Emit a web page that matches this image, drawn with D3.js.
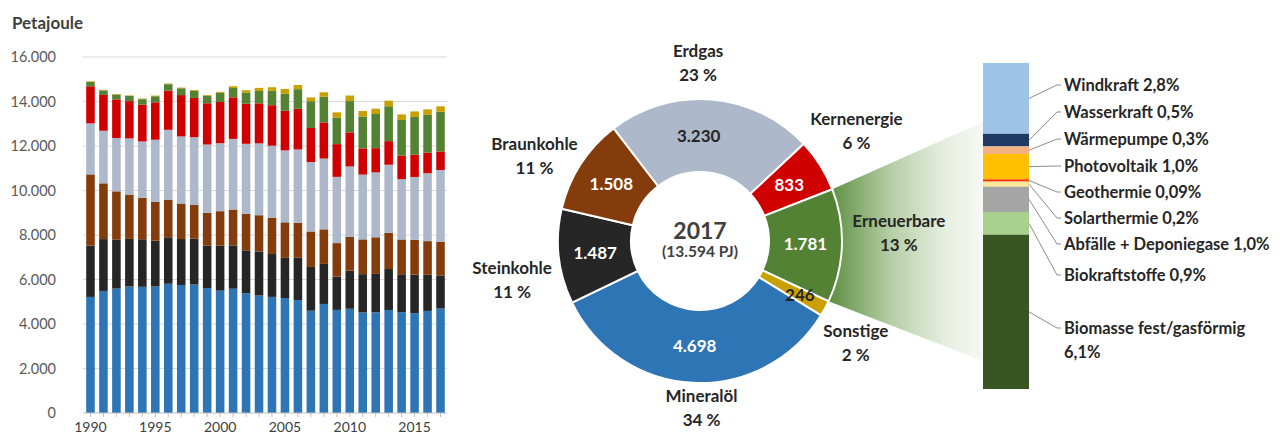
<!DOCTYPE html>
<html>
<head>
<meta charset="utf-8">
<script src="https://cdn.jsdelivr.net/npm/d3@7"></script>
<style>
  body { margin: 0; background: #fff; }
  svg { display: block; font-family: Lato, "Open Sans", sans-serif; }
</style>
</head>
<body>
<div id="chart"></div>
<script>
// Primärenergieverbrauch Deutschland, Petajoule
const years = [1990, 1991, 1992, 1993, 1994, 1995, 1996, 1997, 1998, 1999,
  2000, 2001, 2002, 2003, 2004, 2005, 2006, 2007, 2008, 2009,
  2010, 2011, 2012, 2013, 2014, 2015, 2016, 2017];
const mineraloel = [5217, 5486, 5592, 5685, 5671, 5689, 5808, 5754, 5775, 5614,
  5499, 5585, 5385, 5283, 5218, 5166, 5079, 4598, 4901, 4634,
  4684, 4525, 4527, 4630, 4527, 4487, 4588, 4698];
const steinkohle = [2306, 2330, 2195, 2139, 2138, 2060, 2090, 2065, 2059, 1910,
  2021, 1949, 1927, 1976, 1930, 1808, 1898, 1966, 1800, 1496,
  1714, 1715, 1725, 1840, 1708, 1729, 1625, 1487];
const braunkohle = [3201, 2507, 2176, 1994, 1860, 1734, 1688, 1595, 1514, 1473,
  1550, 1611, 1641, 1630, 1635, 1596, 1574, 1595, 1554, 1507,
  1512, 1564, 1645, 1629, 1564, 1565, 1511, 1508];
const erdgas = [2293, 2363, 2398, 2523, 2536, 2799, 3140, 3017, 3048, 3069,
  3055, 3175, 3146, 3229, 3229, 3233, 3293, 3119, 3181, 2976,
  3171, 2911, 2920, 3059, 2713, 2828, 3053, 3230];
const kernenergie = [1668, 1609, 1733, 1675, 1650, 1682, 1764, 1858, 1764, 1855,
  1851, 1868, 1798, 1801, 1822, 1779, 1826, 1533, 1623, 1472,
  1533, 1178, 1085, 1061, 1060, 1001, 923, 833];
const erneuerbare = [196, 203, 218, 232, 249, 272, 287, 305, 318, 340,
  418, 417, 509, 553, 647, 763, 883, 1202, 1155, 1197,
  1405, 1432, 1536, 1567, 1596, 1694, 1698, 1781];
const sonstige = [25, 25, 25, 25, 30, 30, 30, 30, 35, 35,
  40, 80, 100, 140, 160, 220, 190, 170, 200, 230,
  250, 250, 240, 250, 250, 250, 250, 246];
const yTicks = [0, 2000, 4000, 6000, 8000, 10000, 12000, 14000, 16000];

// Donut 2017
const donutNames = ['Erdgas', 'Kernenergie', 'Erneuerbare', 'Sonstige', 'Mineralöl', 'Steinkohle', 'Braunkohle'];
const donutValues = [3230, 833, 1781, 246, 4698, 1487, 1508];
const donutPercent = ['23 %', '6 %', '13 %', '2 %', '34 %', '11 %', '11 %'];
const donutYear = '2017';
const donutTotal = '(13.594 PJ)';

// Erneuerbare, Anteil am PEV in %
const reNames = ['Windkraft', 'Wasserkraft', 'Wärmepumpe', 'Photovoltaik', 'Geothermie',
  'Solarthermie', 'Abfälle + Deponiegase', 'Biokraftstoffe', 'Biomasse fest/gasförmig'];
const reShares = [2.8, 0.5, 0.3, 1.0, 0.09, 0.2, 1.0, 0.9, 6.1];
const reShareText = ['2,8%', '0,5%', '0,3%', '1,0%', '0,09%', '0,2%', '1,0%', '0,9%', '6,1%'];

// colours
const colors = {
  'Mineralöl': '#2e75b6', 'Steinkohle': '#262626', 'Braunkohle': '#843c0c',
  'Erdgas': '#adb9ca', 'Kernenergie': '#d00000', 'Erneuerbare': '#548235', 'Sonstige': '#c9a000'
};
const reColors = ['#9dc3e6', '#1f3864', '#f4b183', '#ffc000', '#ff3300', '#ffe699', '#a5a5a5', '#a9d18e', '#375623'];

const textDark = '#262626';
const svg = d3.select('#chart').append('svg').attr('width', 1280).attr('height', 438);
const de = d3.formatLocale({ decimal: ',', thousands: '.', grouping: [3], currency: ['', ' €'] });
const fmt = de.format(',');

// ---------- left: stacked bars ----------
const stackKeys = ['Mineralöl', 'Steinkohle', 'Braunkohle', 'Erdgas', 'Kernenergie', 'Erneuerbare', 'Sonstige'];
const seriesArrays = [mineraloel, steinkohle, braunkohle, erdgas, kernenergie, erneuerbare, sonstige];
const rows = years.map((yr, i) => {
  const r = { year: yr };
  stackKeys.forEach((k, j) => { r[k] = seriesArrays[j][i]; });
  return r;
});

const x = d3.scaleBand().domain(years).range([84, 447]).paddingInner(0.34).paddingOuter(0.17);
const y = d3.scaleLinear().domain([0, 16000]).range([413, 57]);

svg.append('text')
  .attr('x', 12).attr('y', 29)
  .attr('font-size', 17).attr('font-weight', 700).attr('fill', '#404040')
  .text('Petajoule');

svg.append('g').attr('class', 'grid')
  .selectAll('line').data(yTicks.filter((d) => d > 0)).enter().append('line')
  .attr('x1', 83).attr('x2', 447)
  .attr('y1', (d) => y(d)).attr('y2', (d) => y(d))
  .attr('stroke', '#d9d9d9').attr('stroke-width', 1);

const yAxis = svg.append('g').attr('transform', 'translate(62,0)')
  .call(d3.axisLeft(y).tickValues(yTicks).tickSize(0).tickPadding(6).tickFormat(fmt));
yAxis.select('.domain').remove();
yAxis.selectAll('text').attr('font-size', 14.5).attr('fill', '#595959').attr('font-family', 'Lato, "Open Sans", sans-serif');

const stacked = d3.stack().keys(stackKeys)(rows);
svg.append('g').selectAll('g').data(stacked).enter().append('g')
  .attr('fill', (d) => colors[d.key])
  .selectAll('rect').data((d) => d).enter().append('rect')
  .attr('x', (d) => x(d.data.year))
  .attr('width', x.bandwidth())
  .attr('y', (d) => y(d[1]))
  .attr('height', (d) => y(d[0]) - y(d[1]));

const xAxis = svg.append('g').attr('transform', 'translate(0,413)')
  .call(d3.axisBottom(x).tickSize(4).tickPadding(5).tickFormat((d) => (d % 5 === 0 ? d : '')));
xAxis.select('.domain').attr('stroke', '#bfbfbf').attr('d', 'M83,0H447');
xAxis.selectAll('line').attr('stroke', '#bfbfbf');
xAxis.selectAll('text').attr('font-size', 14).attr('fill', '#404040').attr('font-family', 'Lato, "Open Sans", sans-serif');

// ---------- middle: donut ----------
const cx = 700, cy = 241, rIn = 69, rOut = 142;
const start = -37.5 * Math.PI / 180;
const pie = d3.pie().sort(null).value((d) => d.value).startAngle(start).endAngle(start + 2 * Math.PI);
const slices = pie(donutNames.map((n, i) => ({ name: n, value: donutValues[i], pct: donutPercent[i] })));
const arc = d3.arc().innerRadius(rIn).outerRadius(rOut);
const polar = (r, a) => [cx + r * Math.sin(a), cy - r * Math.cos(a)];

// gradient wedge from Erneuerbare slice to breakdown bar
const barX = 983, barW = 46, barTop = 63, barBottom = 389;
const defs = svg.append('defs');
const grad = defs.append('linearGradient').attr('id', 'fadeGreen')
  .attr('gradientUnits', 'userSpaceOnUse').attr('x1', 830).attr('x2', barX).attr('y1', 0).attr('y2', 0);
grad.append('stop').attr('offset', 0).attr('stop-color', '#5e8f42');
grad.append('stop').attr('offset', 0.4).attr('stop-color', '#b6cfa6');
grad.append('stop').attr('offset', 0.75).attr('stop-color', '#e6eee0');
grad.append('stop').attr('offset', 1).attr('stop-color', '#f6f9f4');
const ern = slices.find((s) => s.data.name === 'Erneuerbare');
const p1 = polar(rOut, ern.startAngle), p2 = polar(rOut, ern.endAngle);
svg.append('path')
  .attr('d', `M${p1[0]},${p1[1]}L${barX},122L${barX},361L${p2[0]},${p2[1]}Z`)
  .attr('fill', 'url(#fadeGreen)');

const donut = svg.append('g').attr('transform', `translate(${cx},${cy})`);
donut.selectAll('path').data(slices).enter().append('path')
  .attr('d', arc)
  .attr('fill', (d) => colors[d.data.name])
  .attr('stroke', '#fff').attr('stroke-width', 2);

// nudges for the slice labels (layout only)
const valueNudge = { 'Erdgas': [-10, 0], 'Sonstige': [7, 4] };
const labelNudge = {
  'Erdgas': [-17, 0], 'Kernenergie': [0, -17], 'Erneuerbare': [14, -20], 'Sonstige': [-7, 8],
  'Mineralöl': [11, -24], 'Steinkohle': [-4, 13], 'Braunkohle': [-10, 9]
};
const darkValue = new Set(['Erdgas', 'Sonstige']);

donut.selectAll('text.val').data(slices).enter().append('text')
  .attr('class', 'val')
  .attr('transform', (d) => {
    const c = arc.centroid(d);
    const n = valueNudge[d.data.name] || [0, 0];
    return `translate(${c[0] + n[0]},${c[1] + n[1]})`;
  })
  .attr('text-anchor', 'middle').attr('dy', '0.35em')
  .attr('font-size', 17).attr('font-weight', 700)
  .attr('fill', (d) => (darkValue.has(d.data.name) ? textDark : '#fff'))
  .text((d) => fmt(d.data.value));

const outer = donut.selectAll('g.lbl').data(slices).enter().append('g')
  .attr('class', 'lbl')
  .attr('transform', (d) => {
    const a = (d.startAngle + d.endAngle) / 2;
    const n = labelNudge[d.data.name];
    return `translate(${185 * Math.sin(a) + n[0]},${-185 * Math.cos(a) + n[1]})`;
  })
  .attr('text-anchor', 'middle').attr('font-size', 17).attr('font-weight', 700).attr('fill', textDark);
outer.append('text').text((d) => d.data.name);
outer.append('text').attr('y', 24).text((d) => d.data.pct);

donut.append('text').attr('text-anchor', 'middle').attr('y', -2)
  .attr('font-size', 23).attr('font-weight', 700).attr('fill', '#404040').text(donutYear);
donut.append('text').attr('text-anchor', 'middle').attr('y', 16)
  .attr('font-size', 15.5).attr('font-weight', 700).attr('fill', '#404040').text(donutTotal);

// ---------- right: renewables breakdown ----------
const reStack = [];
let acc = 0;
reShares.forEach((v, i) => { reStack.push({ name: reNames[i], text: reShareText[i], y0: acc, y1: acc + v, color: reColors[i] }); acc += v; });
const yr = d3.scaleLinear().domain([0, acc]).range([barTop, barBottom]);

svg.append('g').selectAll('rect').data(reStack).enter().append('rect')
  .attr('x', barX).attr('width', barW)
  .attr('y', (d) => yr(d.y0))
  .attr('height', (d) => yr(d.y1) - yr(d.y0))
  .attr('fill', (d) => d.color);

const labelY = [85, 112, 139, 166, 192, 218, 244, 275, 328];
const lx = 1064;
svg.append('g').selectAll('path').data(reStack).enter().append('path')
  .attr('d', (d, i) => {
    const sy = (yr(d.y0) + yr(d.y1)) / 2;
    return `M${barX + barW},${sy}L${lx - 7},${labelY[i]}H${lx - 3}`;
  })
  .attr('fill', 'none').attr('stroke', '#8c8c8c').attr('stroke-width', 1);

const reText = svg.append('g').selectAll('text').data(reStack).enter().append('text')
  .attr('x', lx).attr('y', (d, i) => labelY[i] + 5.5)
  .attr('font-size', 16.5).attr('font-weight', 700).attr('fill', textDark);
reText.each(function (d, i) {
  const t = d3.select(this);
  if (i === reStack.length - 1) {
    t.append('tspan').attr('x', lx).text(d.name);
    t.append('tspan').attr('x', lx).attr('dy', 24).text(d.text);
  } else {
    t.text(d.name + ' ' + d.text);
  }
});
</script>
</body>
</html>
